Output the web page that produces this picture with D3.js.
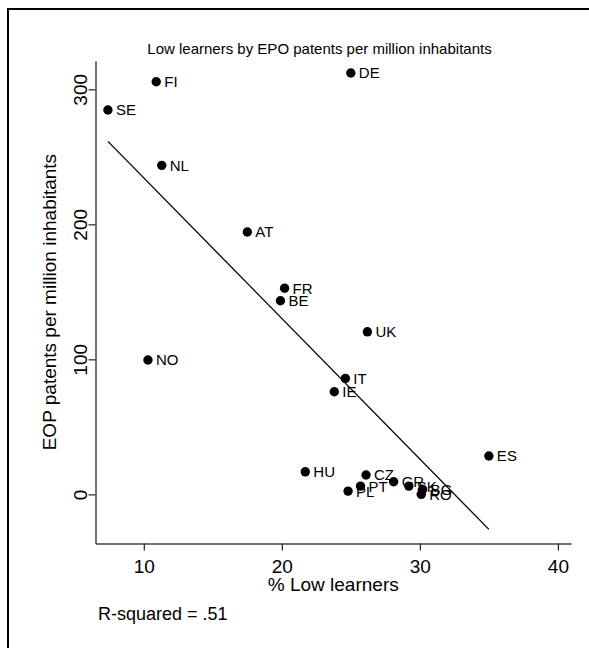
<!DOCTYPE html>
<html>
<head>
<meta charset="utf-8">
<script src="https://cdn.jsdelivr.net/npm/d3@7"></script>
<style>
  body { margin: 0; background: #fff; }
  svg text { font-family: "Liberation Sans", Arial, sans-serif; fill: #000; }
</style>
</head>
<body>
<div id="chart"></div>
<script>
// values
var countries   = ["FI", "SE", "NL", "DE", "AT", "FR", "BE", "UK", "IT", "IE",
                   "NO", "ES", "HU", "CZ", "PT", "PL", "GR", "SK", "BG", "RO"];
var lowLearners = [10.9, 7.4, 11.3, 25.0, 17.5, 20.2, 19.9, 26.2, 24.6, 23.8,
                   10.3, 35.0, 21.7, 26.1, 25.7, 24.8, 28.1, 29.2, 30.2, 30.1];
var patents     = [305.6, 284.7, 243.7, 312.1, 194.3, 152.7, 143.4, 120.4, 85.9, 76.0,
                   99.5, 28.4, 16.7, 14.3, 6.1, 2.4, 9.3, 6.1, 3.7, 0];
var xTicks = [10, 20, 30, 40];
var yTicks = [0, 100, 200, 300];
var rSquared = ".51";

var width = 589, height = 648;

var svg = d3.select("#chart")
  .append("svg")
    .attr("width", width)
    .attr("height", height);

// outer frame (runs off right and bottom edges)
svg.append("rect")
    .attr("x", 8).attr("y", 9)
    .attr("width", 620).attr("height", 700)
    .attr("fill", "none")
    .attr("stroke", "#000")
    .attr("stroke-width", 2);

var x = d3.scaleLinear().domain([6.5, 40.95]).range([95.5, 571]);
var y = d3.scaleLinear().domain([-36.4, 321.2]).range([543.5, 60.7]);

var data = countries.map(function(c, i) {
  return {id: c, x: lowLearners[i], y: patents[i]};
});

// least squares fit
var mx = d3.mean(data, function(d) { return d.x; }),
    my = d3.mean(data, function(d) { return d.y; });
var sxy = d3.sum(data, function(d) { return (d.x - mx) * (d.y - my); }),
    sxx = d3.sum(data, function(d) { return (d.x - mx) * (d.x - mx); });
var slope = sxy / sxx, intercept = my - slope * mx;
var xExt = d3.extent(data, function(d) { return d.x; });

// axes
var xAxis = svg.append("g")
    .attr("transform", "translate(0," + y.range()[0] + ")")
    .call(d3.axisBottom(x).tickValues(xTicks).tickSize(7).tickPadding(9).tickSizeOuter(0));
var yAxis = svg.append("g")
    .attr("transform", "translate(" + x.range()[0] + ",0)")
    .call(d3.axisLeft(y).tickValues(yTicks).tickSize(7).tickSizeOuter(0));

[xAxis, yAxis].forEach(function(a) {
  a.select(".domain").attr("stroke", "#444").attr("stroke-width", 1.5);
  a.selectAll(".tick line").attr("stroke", "#222").attr("stroke-width", 1.2);
  a.selectAll(".tick text").style("font-size", "19px").attr("fill", "#000");
});
xAxis.selectAll(".tick text").attr("dy", "0.71em");
yAxis.selectAll(".tick text")
    .attr("text-anchor", "middle")
    .attr("x", null).attr("dy", null)
    .attr("transform", "translate(-9,0) rotate(-90)");

// axis titles
svg.append("text")
    .attr("x", (x.range()[0] + x.range()[1]) / 2)
    .attr("y", 591)
    .attr("text-anchor", "middle")
    .style("font-size", "19px")
    .text("% Low learners");

svg.append("text")
    .attr("transform", "translate(56," + (y.range()[0] + y.range()[1]) / 2 + ") rotate(-90)")
    .attr("text-anchor", "middle")
    .style("font-size", "19px")
    .text("EOP patents per million inhabitants");

svg.append("text")
    .attr("x", 319.5)
    .attr("y", 54)
    .attr("text-anchor", "middle")
    .style("font-size", "15px")
    .text("Low learners by EPO patents per million inhabitants");

svg.append("text")
    .attr("x", 98)
    .attr("y", 620)
    .style("font-size", "18px")
    .text("R-squared = " + rSquared);

// fit line
svg.append("line")
    .attr("x1", x(xExt[0])).attr("y1", y(intercept + slope * xExt[0]))
    .attr("x2", x(xExt[1])).attr("y2", y(intercept + slope * xExt[1]))
    .attr("stroke", "#000")
    .attr("stroke-width", 1.3);

// points + labels
var pts = svg.selectAll(".pt")
  .data(data)
  .enter().append("g")
    .attr("class", "pt")
    .attr("transform", function(d) { return "translate(" + x(d.x) + "," + y(d.y) + ")"; });

pts.append("circle")
    .attr("r", 4.7)
    .attr("fill", "#000");

pts.append("text")
    .attr("x", 8)
    .attr("y", 5.4)
    .style("font-size", "15px")
    .text(function(d) { return d.id; });
</script>
</body>
</html>
